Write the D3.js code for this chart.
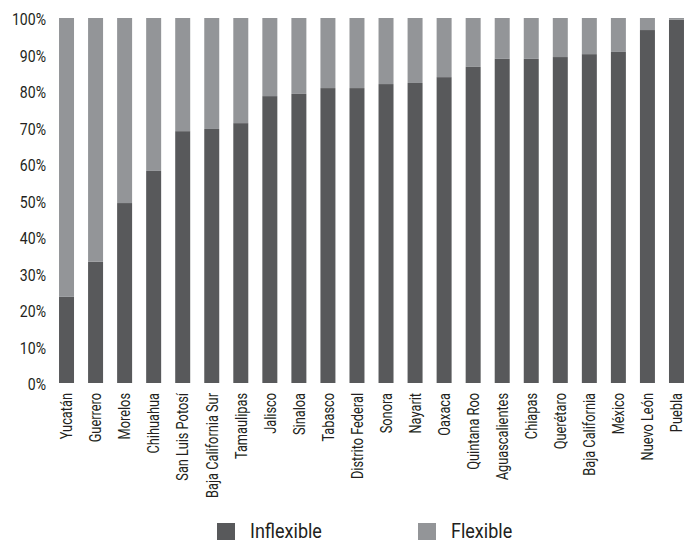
<!DOCTYPE html>
<html>
<head>
<meta charset="utf-8">
<script src="https://cdn.jsdelivr.net/npm/d3@7"></script>
<style>
  html, body { margin: 0; padding: 0; background: #fff; }
  svg { display: block; }
  text { font-family: Roboto, "Liberation Sans", sans-serif; fill: #231f20; }
</style>
</head>
<body>
<svg id="chart" width="691" height="541"></svg>
<script>
const categories = ["Yucatán","Guerrero","Morelos","Chihuahua","San Luis Potosí","Baja California Sur","Tamaulipas","Jalisco","Sinaloa","Tabasco","Distrito Federal","Sonora","Nayarit","Oaxaca","Quintana Roo","Aguascalientes","Chiapas","Querétaro","Baja California","México","Nuevo León","Puebla"];
const inflexible = [23.6,33.2,49.3,58.1,69.0,69.6,71.2,78.6,79.2,80.8,80.8,81.9,82.2,83.8,86.6,88.8,88.8,89.3,90.1,90.7,96.7,99.5];
const flexible = inflexible.map(v => +(100 - v).toFixed(1));
const yTicks = [0,10,20,30,40,50,60,70,80,90,100];
const seriesNames = ["Inflexible","Flexible"];
const colors = ["#58595b","#939598"];

const svg = d3.select("#chart");
const rows = categories.map((c,i) => ({cat:c, Inflexible: inflexible[i], Flexible: flexible[i]}));
const stack = d3.stack().keys(seriesNames)(rows);

const x = d3.scaleBand().domain(categories).range([52, 691]).paddingInner(0.484).paddingOuter(0.242);
const y = d3.scaleLinear().domain([0,100]).range([383, 18]);

svg.append("g").selectAll("g").data(stack).join("g")
  .attr("fill", (d,i) => colors[i])
  .selectAll("rect").data(d => d).join("rect")
  .attr("x", d => x(d.data.cat))
  .attr("width", x.bandwidth())
  .attr("y", d => y(d[1]))
  .attr("height", d => y(d[0]) - y(d[1]));

// horizontal compression to imitate the condensed typeface
const kY = 0.88, kX = 0.80, kL = 0.90;

// Y axis
const yAxis = d3.axisLeft(y).tickValues(yTicks).tickFormat(d => d + "%").tickSize(0).tickPadding(0);
const yg = svg.append("g").attr("transform", "translate(46,0)").call(yAxis);
yg.select(".domain").remove();
yg.selectAll("text").attr("font-size", 16).attr("dy", "0.42em").attr("x", 0)
  .attr("transform", `scale(${kY},1)`)
  .style("font-family", "Roboto, 'Liberation Sans', sans-serif").attr("fill", "#231f20");

// X axis
const xAxis = d3.axisBottom(x).tickSize(0).tickPadding(0);
const xg = svg.append("g").attr("transform", "translate(0,383)").call(xAxis);
xg.select(".domain").remove();
xg.selectAll("text")
  .attr("font-size", 16)
  .attr("text-anchor", "end")
  .attr("transform", `rotate(-90) scale(${kX},1)`)
  .attr("x", -10 / kX).attr("y", 0).attr("dy", "0.36em")
  .style("font-family", "Roboto, 'Liberation Sans', sans-serif").attr("fill", "#231f20");

// Legend
const legend = [{name:"Inflexible", x:217},{name:"Flexible", x:418}];
const lg = svg.append("g");
legend.forEach((l,i) => {
  lg.append("rect").attr("x", l.x).attr("y", 523).attr("width", 18).attr("height", 17).attr("fill", colors[i]);
  lg.append("text").attr("transform", `translate(${l.x + 33},538) scale(${kL},1)`)
    .attr("font-size", 20).text(l.name);
});
</script>
</body>
</html>
